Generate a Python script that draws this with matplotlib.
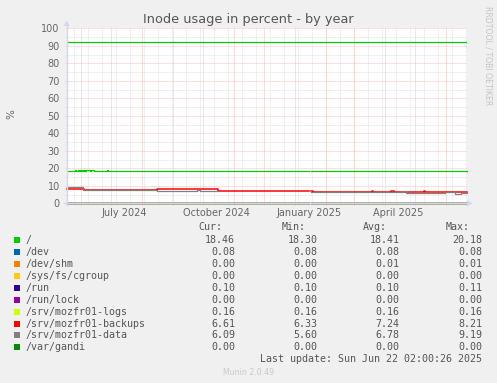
import numpy as np
import pandas as pd
import matplotlib
matplotlib.use("Agg")
import matplotlib.pyplot as plt
import matplotlib.dates as mdates
from matplotlib.patches import Rectangle, Polygon

W, H = 497, 383

# time window of the munin "by year" graph
t_start = pd.Timestamp("2024-05-18 02:00")
t_end = pd.Timestamp("2025-06-22 02:00")

# series: change points (step values), NaN = missing data
root_t = ["2024-05-18", "2024-05-26", "2024-05-27", "2024-05-29", "2024-05-30",
          "2024-05-31", "2024-06-01", "2024-06-02", "2024-06-03", "2024-06-04",
          "2024-06-05", "2024-06-06", "2024-06-07", "2024-06-08", "2024-06-10",
          "2024-06-11", "2024-06-14", "2024-06-27", "2024-06-28", "2025-01-15 09:00",
          "2025-01-17 09:00", "2025-06-22 02:00"]
root_v = [18.5, 18.9, 18.4, 19.0, 18.6, 19.0, 18.6, 19.1, 18.7, 19.0,
          18.6, 19.1, 18.8, 19.1, 18.7, 19.0, 18.4, 18.9, 18.4, np.nan,
          18.4, 18.46]

backups_t = ["2024-05-18", "2024-06-04", "2024-08-16", "2024-10-16", "2025-01-15 09:00",
             "2025-01-17 09:00", "2025-01-19", "2025-01-22", "2025-03-19",
             "2025-03-20", "2025-04-07", "2025-04-10", "2025-04-22",
             "2025-05-10", "2025-05-11", "2025-06-22 02:00"]
backups_v = [8.0, 7.7, 8.0, 7.2, np.nan, 7.0, 6.7, 6.5, 6.8, 6.5, 6.8, 6.5, 6.3,
             7.0, 6.6, 6.61]

data_t = ["2024-05-18", "2024-06-03", "2024-08-16", "2024-09-25", "2024-09-28",
          "2024-10-16", "2025-01-17 09:00", "2025-04-19", "2025-04-22",
          "2025-05-31", "2025-06-10", "2025-06-16", "2025-06-22 02:00"]
data_v = [9.1, 7.7, 7.0, 7.7, 7.0, np.nan, 6.5, 6.8, 5.7, 6.3, 5.6, 6.1, 6.09]

# small filesystems, nearly flat
flat_t = ["2024-05-18", "2025-01-15 09:00", "2025-01-17 09:00", "2025-06-22 02:00"]
flat_levels = {"/dev": 0.08, "/dev/shm": 0.0, "/sys/fs/cgroup": 0.0, "/run": 0.10,
               "/run/lock": 0.0, "/srv/mozfr01-logs": 0.16, "/var/gandi": 0.0}

warning_level = 92

labels = ["/", "/dev", "/dev/shm", "/sys/fs/cgroup", "/run", "/run/lock",
          "/srv/mozfr01-logs", "/srv/mozfr01-backups", "/srv/mozfr01-data", "/var/gandi"]
colors = ["#00CC00", "#0066B3", "#FF8000", "#FFCC00", "#330099", "#990099",
          "#CCFF00", "#FF0000", "#808080", "#008F00"]
cur = [18.46, 0.08, 0.00, 0.00, 0.10, 0.00, 0.16, 6.61, 6.09, 0.00]
vmin = [18.30, 0.08, 0.00, 0.00, 0.10, 0.00, 0.16, 6.33, 5.60, 0.00]
vavg = [18.41, 0.08, 0.01, 0.00, 0.10, 0.00, 0.16, 7.24, 6.78, 0.00]
vmax = [20.18, 0.08, 0.01, 0.00, 0.11, 0.00, 0.16, 8.21, 9.19, 0.00]

FONT = "#666666"
px = 0.72  # one pixel in points at dpi 100

fig = plt.figure(figsize=(W / 100, H / 100), dpi=100, facecolor="#F0F0F0")
ax = fig.add_axes([66.7 / W, 1 - 203.3 / H, 400 / W, 175 / H])
ax.set_facecolor("white")
ax.set_xlim(t_start, t_end)
ax.set_ylim(0, 100)
for s in ax.spines.values():
    s.set_visible(False)

# grid (dotted, drawn like rrdtool with small ticks outside the canvas)
dot = (0, (1, 1))
GRID = "#e2e2e2"
MGRID = "#f6c2c2"
xt = ax.get_xaxis_transform()
yt = ax.get_yaxis_transform()
for d in pd.date_range("2024-05-25", "2025-06-22", freq="14D"):
    ax.plot([d, d], [-0.011, 1], transform=xt, color=GRID, lw=px, ls=dot,
            clip_on=False, zorder=1)
for d in pd.date_range("2024-06-01", "2025-06-01", freq="MS"):
    ax.plot([d, d], [-0.011, 1], transform=xt, color=MGRID, lw=px, ls=dot,
            clip_on=False, zorder=1.5)
for y in range(5, 100, 10):
    ax.plot([-0.005, 1], [y, y], transform=yt, color=GRID, lw=px, ls=dot,
            clip_on=False, zorder=1)
for y in range(10, 101, 10):
    ax.plot([-0.005, 1], [y, y], transform=yt, color=MGRID, lw=px, ls=dot,
            clip_on=False, zorder=1.5)

# axis lines with arrows
AX = "#CFD6F8"
def fpt(x, y):
    return (x / W, 1 - y / H)
fig.add_artist(plt.Line2D([66.7 / W, 66.7 / W], [1 - 205 / H, 1 - 25 / H],
                          color=AX, lw=1.0, zorder=2))
fig.add_artist(plt.Line2D([64 / W, 468 / W], [1 - 203.3 / H, 1 - 203.3 / H],
                          color=AX, lw=1.0, zorder=2))
fig.add_artist(Polygon([fpt(63.7, 26), fpt(69.7, 26), fpt(66.7, 20.5)],
                       closed=True, transform=fig.transFigure, color=AX, lw=0))
fig.add_artist(Polygon([fpt(467, 200.3), fpt(467, 206.3), fpt(472.5, 203.3)],
                       closed=True, transform=fig.transFigure, color=AX, lw=0))

# data, drawn in legend order
lw = 0.9
ax.plot([t_start, t_end], [warning_level, warning_level],
        color=colors[0], lw=lw, zorder=3)
series = {"/": (root_t, root_v),
          "/srv/mozfr01-backups": (backups_t, backups_v),
          "/srv/mozfr01-data": (data_t, data_v)}
for name, color in zip(labels, colors):
    if name in series:
        t, v = series[name]
    else:
        lvl = flat_levels[name]
        t, v = flat_t, [lvl, np.nan, lvl, lvl]
    w = 1.1 if name == "/srv/mozfr01-backups" else lw
    ax.plot(pd.to_datetime(t, format="mixed"), v, drawstyle="steps-post",
            color=color, lw=w, zorder=3, clip_on=False)

# ticks
ax.set_yticks(range(0, 101, 10))
ax.yaxis.set_major_formatter(plt.FuncFormatter(lambda v, p: f"{v:.0f}"))
ax.xaxis.set_major_locator(mdates.MonthLocator(bymonth=[1, 4, 7, 10], bymonthday=15))
ax.xaxis.set_major_formatter(mdates.DateFormatter("%B %Y"))
ax.tick_params(axis="both", length=0, labelsize=7, labelcolor=FONT)
ax.tick_params(axis="y", pad=5)
ax.tick_params(axis="x", pad=3.5)

# titles
fig.text(248 / W, 1 - 20 / H, "Inode usage in percent - by year", ha="center",
         va="center", fontsize=9.3, color="#555555")
fig.text(11 / W, 1 - 114 / H, "%", rotation=90, ha="center", va="center",
         fontsize=7.5, color=FONT)
fig.text(488 / W, 1 - 56 / H, "RRDTOOL / TOBI OETIKER", rotation=270, ha="center",
         va="center", fontsize=5.6, color="#c4c4c4")

# legend
mono = "DejaVu Sans Mono"
LEG = "#555555"
fs = 7.2
yh = 227.3
for txt, xr in zip(["Cur:", "Min:", "Avg:", "Max:"], [222, 305.3, 387.3, 470]):
    fig.text(xr / W, 1 - yh / H, txt, ha="right", va="center", family=mono,
             fontsize=fs, color=LEG)
for i, name in enumerate(labels):
    y = 240 + 11.93 * i
    fig.add_artist(Rectangle((14 / W, 1 - (y + 3) / H), 6 / W, 6 / H,
                             transform=fig.transFigure, color=colors[i], lw=0))
    fig.text(26 / W, 1 - y / H, name, ha="left", va="center", family=mono,
             fontsize=fs, color=LEG)
    for val, xr in zip([cur[i], vmin[i], vavg[i], vmax[i]], [235, 317.7, 399.3, 482.3]):
        fig.text(xr / W, 1 - y / H, f"{val:.2f}", ha="right", va="center",
                 family=mono, fontsize=fs, color=LEG)
fig.text(482.3 / W, 1 - 359.3 / H, "Last update: Sun Jun 22 02:00:26 2025",
         ha="right", va="center", family=mono, fontsize=fs, color=LEG)
fig.text(249 / W, 1 - 372.3 / H, "Munin 2.0.49", ha="center", va="center",
         fontsize=5.6, color="#c8c8c8")

fig.savefig("out.png", dpi=100, facecolor=fig.get_facecolor())
